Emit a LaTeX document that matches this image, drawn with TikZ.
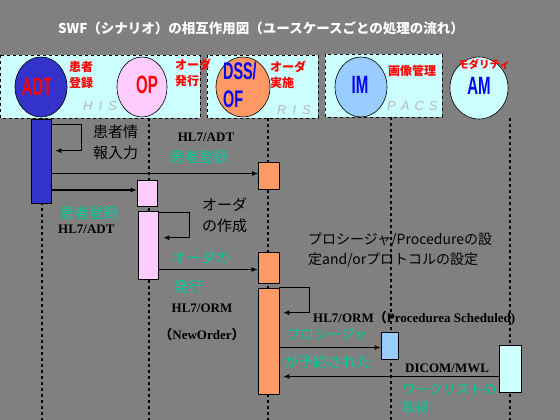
\documentclass[tikz,border=0pt]{standalone}
\usepackage{fontspec}
\setmainfont{Liberation Serif}
\newfontfamily\jp{Noto Sans CJK JP}
\newfontfamily\sans{Liberation Sans}
\usetikzlibrary{shapes.geometric,arrows.meta}
\definecolor{bggrey}{HTML}{808080}
\definecolor{boxcyan}{HTML}{CCFFFF}
\definecolor{adtblue}{HTML}{3333CC}
\definecolor{oppink}{HTML}{FFCCFF}
\definecolor{dssorange}{HTML}{FF9966}
\definecolor{imblue}{HTML}{99CCFF}
\definecolor{msggreen}{HTML}{00CC99}
\definecolor{sysgrey}{HTML}{B8B8B8}
\tikzset{
  grpbox/.style={draw=black,dashed,fill=boxcyan,line width=0.8pt},
  actor/.style={ellipse,draw=black,line width=0.6pt,minimum width=52pt,minimum height=60pt,inner sep=0pt},
  actlabel/.style={font=\sans\bfseries\fontsize{25}{25}\selectfont,xscale=0.6,inner sep=0pt},
  rolelabel/.style={font=\jp\bfseries\fontsize{12}{16}\selectfont,text=red,align=left,anchor=west,inner sep=0pt},
  syslabel/.style={font=\sans\itshape\fontsize{13}{13}\selectfont,text=sysgrey,anchor=west,inner sep=0pt},
  life/.style={draw=black,line width=2.5pt,dash pattern=on 3pt off 3pt},
  actbox/.style={rectangle,draw=black,line width=0.6pt,minimum width=20pt,inner sep=0pt},
  msg/.style={draw=black,line width=1.5pt,-{Latex[length=6pt,width=5pt]}},
  note/.style={font=\jp\fontsize{15}{21}\selectfont,text=black,align=left,anchor=west,inner sep=0pt},
  hlnote/.style={font=\jp\fontsize{14.5}{20}\selectfont,text=msggreen,anchor=west,inner sep=0pt},
  hl7/.style={font=\bfseries\fontsize{13}{13}\selectfont,text=black,inner sep=0pt}
}
\begin{document}
\begin{tikzpicture}[x=1pt,y=-1pt]
% background
\fill[bggrey] (0,0) rectangle (560,420);
\useasboundingbox (0,0) rectangle (560,420);
\node[font=\jp\bfseries\fontsize{13.5}{13.5}\selectfont,text=white] (title) at (261,28)
  {SWF（シナリオ）の相互作用図（ユースケースごとの処理の流れ）};

% system groups
\draw[grpbox] (0,55) rectangle (200,118);
\draw[grpbox] (207,55) rectangle (318,118);
\draw[grpbox] (325,54) rectangle (442,117);
\node[syslabel] (his) at (83,106) {H\hspace{6pt}I\hspace{6pt}S};
\node[syslabel] (ris) at (277,110) {R\hspace{6pt}I\hspace{6pt}S};
\node[syslabel] (pacs) at (387,106) {P\hspace{5pt}A\hspace{5pt}C\hspace{5pt}S};

% actors
\node[actor,fill=adtblue] (adt) at (41,87) {};
\node[actor,fill=oppink,minimum width=50pt] (op) at (142,87) {};
\node[actor,fill=dssorange,minimum width=54pt] (dss) at (243,87) {};
\node[actor,fill=imblue] (im) at (361,87) {};
\node[actor,fill=boxcyan,minimum width=58pt,minimum height=62pt] (am) at (479,88) {};
\node[actlabel,text=red] at (37,87) {ADT};
\node[actlabel,text=red] at (147,85) {OP};
\node[actlabel,text=blue,align=left,anchor=west,font=\sans\bfseries\fontsize{24}{28}\selectfont] at (223,85) {DSS/\\OF};
\node[actlabel,text=blue] at (360,85) {IM};
\node[actlabel,text=blue] at (479,86) {AM};
\node[rolelabel] at (69,75) {患者\\登録};
\node[rolelabel] at (175,73) {オーダ\\発行};
\node[rolelabel] at (270,75) {オーダ\\実施};
\node[rolelabel] at (388,71) {画像管理};
\node[rolelabel,font=\jp\bfseries\fontsize{10.5}{12}\selectfont] at (458,64) {モダリティ};

% lifelines
\draw[life] (42,118) -- (42,420);
\draw[life] (149,118) -- (149,420);
\draw[life] (268,118) -- (268,420);
\draw[life] (391,117) -- (391,420);
\draw[life] (510,118) -- (510,420);

% activation boxes
\node[actbox,fill=adtblue,minimum height=84pt] (a1) at (41,161) {};
\node[actbox,fill=oppink,minimum height=26pt] (o1) at (147,193) {};
\node[actbox,fill=oppink,minimum height=68pt] (o2) at (148,245) {};
\node[actbox,fill=dssorange,minimum width=21pt,minimum height=27pt] (d1) at (269,175.5) {};
\node[actbox,fill=dssorange,minimum width=21pt,minimum height=31pt] (d2) at (268.5,267.5) {};
\node[actbox,fill=dssorange,minimum width=21pt,minimum height=106pt] (d3) at (268.5,341) {};
\node[actbox,fill=imblue,minimum width=17pt,minimum height=27pt] (i1) at (389.5,345.5) {};
\node[actbox,fill=boxcyan,minimum width=22pt,minimum height=47pt] (m1) at (510,368.5) {};

% messages
\draw[msg] ([yshift=-6pt]a1.north east) -- ++(30,0) -- ++(0,26) -- ++(-26,0);
\draw[msg] ([yshift=2pt]a1.east |- d1.west) -- ([yshift=2pt]d1.west);
\draw[msg] ([yshift=3pt]a1.east |- o1.west) -- ([yshift=3pt]o1.west);
\draw[msg] ([yshift=-2pt]o2.north east) -- ++(31,0) -- ++(0,25) -- ++(-26,0);
\draw[msg] ([yshift=-2pt]o2.east |- d2.west) -- ([yshift=-2pt]d2.west);
\draw[msg] (d3.north east) -- ++(30,0) -- ++(0,25) -- ++(-26,0);
\draw[msg] ([yshift=-2pt]d3.east |- i1.west) -- ([yshift=-2pt]i1.west);
\draw[msg] ([yshift=-8pt]m1.west) -- ([xshift=4pt,yshift=-8pt]d3.east |- m1.west);

% message labels
\node[note] at (93,142) {患者情\\報入力};
\node[hl7] at (206,137) {HL7/ADT};
\node[hlnote] at (170,157) {患者登録};
\node[hlnote] at (60,213) {患者登録};
\node[hl7,anchor=west] at (58,229) {HL7/ADT};
\node[note] at (202,215) {オーダ\\の作成};
\node[hlnote] at (172,258) {オーダの};
\node[hlnote] at (174,287) {発行};
\node[hl7] at (202,308) {HL7/ORM};
\node[hl7] at (202,335) {{\jp（}NewOrder{\jp）}};
\node[note,font=\jp\fontsize{14}{20}\selectfont] at (308,250) {プロシージャ/Procedureの設\\定and/orプロトコルの設定};
\node[hl7,anchor=west] at (313,318) {HL7/ORM{\jp（}Procedurea Scheduled)};
\node[hlnote,font=\jp\fontsize{13.5}{20}\selectfont] at (287,334) {プロシージャ};
\node[hlnote] at (284,362) {が予約された};
\node[hl7,anchor=west] at (405,368) {DICOM/MWL};
\node[hlnote,font=\jp\fontsize{13.5}{18}\selectfont,align=left] at (402,399) {ワークリストの\\取得};
\end{tikzpicture}
\end{document}
